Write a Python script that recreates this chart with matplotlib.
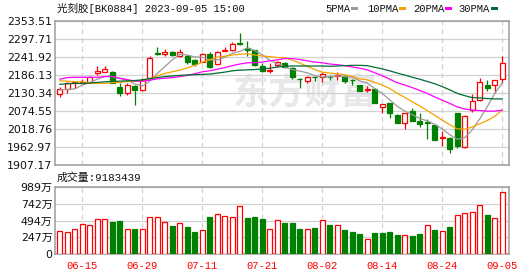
import matplotlib
matplotlib.use("Agg")
import matplotlib.pyplot as plt
import numpy as np
from matplotlib.patches import Rectangle

plt.rcParams['font.family'] = ['DejaVu Sans', 'Noto Sans CJK SC']

title = "光刻胶[BK0884] 2023-09-05 15:00"
vol_title = "成交量:9183439"

dates = ['06-12', '06-13', '06-14', '06-15', '06-16', '06-19', '06-20', '06-21', '06-26', '06-27',
         '06-28', '06-29', '06-30', '07-03', '07-04', '07-05', '07-06', '07-07', '07-10', '07-11',
         '07-12', '07-13', '07-14', '07-17', '07-18', '07-19', '07-20', '07-21', '07-24', '07-25',
         '07-26', '07-27', '07-28', '07-31', '08-01', '08-02', '08-03', '08-04', '08-07', '08-08',
         '08-09', '08-10', '08-11', '08-14', '08-15', '08-16', '08-17', '08-18', '08-21', '08-22',
         '08-23', '08-24', '08-25', '08-28', '08-29', '08-30', '08-31', '09-01', '09-04', '09-05']
date_ticks = ['06-15', '06-29', '07-11', '07-21', '08-02', '08-14', '08-24', '09-05']

opens = [2128, 2145, 2161, 2163, 2166, 2192, 2195, 2197, 2150, 2130,
         2153, 2140, 2177, 2254, 2251, 2259, 2246, 2246, 2235, 2228,
         2253, 2221, 2263, 2265, 2285, 2271, 2264, 2216, 2201, 2219,
         2223, 2208, 2176, 2168, 2181, 2180, 2181, 2185, 2184, 2172,
         2155, 2141, 2145, 2087, 2099, 2063, 2037, 2076, 2044, 2041,
         2031, 1993, 1992, 2069, 1965, 2079, 2109, 2156, 2155, 2174]
closes = [2143, 2161, 2164, 2166, 2180, 2198, 2205, 2163, 2132, 2155,
          2142, 2172, 2239, 2252, 2259, 2248, 2258, 2228, 2221, 2253,
          2211, 2258, 2265, 2283, 2284, 2264, 2218, 2200, 2203, 2226,
          2211, 2180, 2175, 2180, 2180, 2191, 2180, 2187, 2170, 2171,
          2138, 2143, 2101, 2096, 2070, 2039, 2068, 2045, 2034, 2037,
          1987, 1995, 1957, 1967, 2061, 2106, 2165, 2148, 2171, 2223]
highs = [2151, 2165, 2166, 2174, 2184, 2215, 2215, 2199, 2163, 2162,
         2155, 2178, 2245, 2273, 2269, 2263, 2267, 2249, 2238, 2255,
         2258, 2262, 2273, 2289, 2318, 2291, 2266, 2225, 2223, 2232,
         2226, 2213, 2179, 2185, 2182, 2197, 2186, 2195, 2186, 2176,
         2157, 2152, 2147, 2097, 2101, 2065, 2068, 2086, 2068, 2052,
         2033, 2015, 1994, 2069, 2062, 2128, 2178, 2172, 2171, 2246]
lows = [2120, 2132, 2148, 2161, 2163, 2187, 2195, 2162, 2122, 2126,
        2093, 2139, 2174, 2249, 2246, 2246, 2242, 2220, 2215, 2226,
        2208, 2218, 2262, 2262, 2280, 2246, 2216, 2197, 2193, 2213,
        2208, 2175, 2148, 2161, 2169, 2166, 2172, 2173, 2163, 2155,
        2136, 2133, 2099, 2068, 2055, 2037, 2021, 2045, 2027, 1990,
        1986, 1967, 1946, 1960, 1962, 2073, 2106, 2139, 2131, 2162]

ma5 = [2141, 2142, 2144, 2156, 2163, 2174, 2183, 2182, 2176, 2171,
       2159, 2153, 2168, 2192, 2213, 2234, 2251, 2249, 2243, 2242,
       2234, 2234, 2242, 2254, 2260, 2271, 2263, 2250, 2233, 2222,
       2212, 2204, 2199, 2194, 2185, 2181, 2181, 2184, 2182, 2180,
       2169, 2162, 2145, 2130, 2110, 2090, 2075, 2064, 2052, 2045,
       2034, 2020, 2002, 1988, 1993, 2017, 2051, 2089, 2130, 2163]
ma10 = [2169, 2168, 2166, 2166, 2162, 2161, 2161, 2163, 2164, 2167,
        2167, 2168, 2175, 2184, 2192, 2197, 2202, 2209, 2217, 2227,
        2234, 2243, 2245, 2249, 2251, 2253, 2249, 2246, 2244, 2241,
        2241, 2233, 2224, 2214, 2204, 2196, 2193, 2191, 2188, 2183,
        2175, 2172, 2164, 2156, 2145, 2130, 2118, 2104, 2091, 2077,
        2062, 2047, 2033, 2020, 2019, 2026, 2036, 2046, 2059, 2078]
ma20 = [2174, 2179, 2180, 2180, 2180, 2180, 2182, 2183, 2177, 2173,
        2168, 2168, 2171, 2175, 2177, 2179, 2182, 2186, 2191, 2197,
        2200, 2205, 2210, 2216, 2221, 2225, 2225, 2227, 2231, 2234,
        2238, 2238, 2235, 2231, 2227, 2225, 2221, 2219, 2216, 2212,
        2208, 2203, 2194, 2185, 2174, 2163, 2156, 2148, 2139, 2130,
        2119, 2109, 2099, 2088, 2082, 2078, 2077, 2075, 2075, 2078]
ma30 = [2158, 2160, 2161, 2161, 2162, 2164, 2166, 2167, 2168, 2169,
        2170, 2172, 2176, 2179, 2182, 2184, 2186, 2187, 2188, 2189,
        2190, 2193, 2196, 2200, 2202, 2203, 2204, 2206, 2208, 2212,
        2214, 2215, 2215, 2215, 2215, 2215, 2214, 2215, 2216, 2217,
        2217, 2216, 2211, 2206, 2200, 2193, 2187, 2180, 2174, 2167,
        2160, 2151, 2141, 2130, 2123, 2117, 2116, 2114, 2113, 2113]

# volume in 万
volumes = [347, 332, 377, 437, 422, 512, 512, 471, 486, 377,
           367, 377, 542, 542, 467, 412, 452, 397, 322, 362,
           546, 587, 557, 542, 711, 531, 546, 516, 377, 497,
           457, 457, 367, 377, 382, 497, 431, 427, 352, 322,
           297, 227, 307, 307, 322, 282, 278, 262, 297, 427,
           352, 337, 397, 576, 602, 621, 726, 576, 527, 918.3439]
vol_up = [1, 1, 1, 1, 1, 1, 1, 0, 0, 1,
          0, 1, 1, 1, 1, 0, 1, 0, 0, 1,
          0, 1, 1, 1, 1, 0, 0, 0, 1, 1,
          0, 0, 0, 1, 0, 1, 0, 1, 0, 0,
          0, 1, 0, 0, 0, 0, 1, 0, 0, 1,
          0, 1, 0, 1, 1, 1, 1, 0, 1, 1]

price_labels = ['1907.17', '1962.97', '2018.76', '2074.55', '2130.34',
                '2186.13', '2241.92', '2297.71', '2353.51']
vol_labels = ['0', '247万', '494万', '742万', '989万']

legend_names = ['5PMA', '10PMA', '20PMA', '30PMA']
ma_colors = ['#9a9a9a', '#f5a300', '#ff00ff', '#006b33']

RED = '#ff0000'
GREEN = '#008000'
GRID = '#d2d2d2'
FRAME = '#9c9c9c'

W, H = 530, 276
fig = plt.figure(figsize=(W / 100, H / 100), dpi=100)
left = 55.3 / W
width = (509 - 55.3) / W
ax = fig.add_axes([left, 1 - 165.3 / H, width, 144 / H])
axv = fig.add_axes([left, 1 - 254.3 / H, width, 67.6 / H])

x = np.arange(len(dates))
o = np.array(opens, float)
c = np.array(closes, float)
up = c >= o
bw = 0.66

# watermark
ax.text(0.55, 0.5, "东方财富", transform=ax.transAxes, ha='center', va='center',
        fontsize=26, fontweight='bold', color='#e8e8eb', family='Noto Sans CJK SC', zorder=0)

# candles
for i in x:
    col = RED if up[i] else GREEN
    ax.vlines(i, lows[i], highs[i], color=col, lw=0.9, zorder=2)
    lo = min(o[i], c[i])
    h = max(abs(c[i] - o[i]), 0.6)
    ax.bar(i, h, bottom=lo, width=bw, facecolor='white' if up[i] else GREEN,
           edgecolor=col, linewidth=0.9, zorder=3)

for ma, col in zip([ma5, ma10, ma20, ma30], ma_colors):
    ax.plot(x, ma, color=col, lw=0.9, zorder=4)

ymin, ymax = 1907.17, 2353.51
ax.set_ylim(ymin, ymax)
ax.set_yticks(np.linspace(ymin, ymax, 9))
ax.set_yticklabels(price_labels)

# volume
vu = np.array(vol_up, bool)
axv.bar(x[vu], np.array(volumes)[vu], width=bw, facecolor='white', edgecolor=RED,
        linewidth=0.9, zorder=3)
axv.bar(x[~vu], np.array(volumes)[~vu], width=bw, facecolor=GREEN, edgecolor=GREEN,
        linewidth=0.9, zorder=3)
vmax = 989.2
axv.set_ylim(0, vmax)
axv.set_yticks(np.linspace(0, vmax, 5))
axv.set_yticklabels(vol_labels)

tick_pos = [dates.index(d) for d in date_ticks]
for a in (ax, axv):
    a.set_xlim(-0.6, 59.9)
    a.set_xticks(tick_pos)
    a.grid(axis='y', color=GRID, lw=0.9, zorder=1)
    for t in tick_pos:
        a.axvline(t, color=GRID, lw=0.9, ls=(0, (4, 3)), zorder=1)
    for s in a.spines.values():
        s.set_color(FRAME)
        s.set_linewidth(1.1)
    a.tick_params(length=0, pad=2, labelsize=7.9, colors='#111111')
    a.set_axisbelow(True)

ax.set_xticklabels([])
axv.set_xticklabels(date_ticks, color=RED, family='Liberation Mono', fontsize=7.6)
axv.tick_params(axis='x', pad=5)

fig.text(57 / W, 1 - 8.5 / H, title, ha='left', va='center', fontsize=7.6,
         family=['Liberation Mono', 'Noto Sans CJK SC'], color='#111111')
fig.text(57 / W, 1 - 178 / H, vol_title, ha='left', va='center', fontsize=7.8,
         family=['Liberation Mono', 'Noto Sans CJK SC'], color='#111111')

# legend
lx = [325, 367, 413, 458]
mx = [351, 399, 445, 491]
for name, col, tx, px in zip(legend_names, ma_colors, lx, mx):
    fig.text(tx / W, 1 - 8.5 / H, name, ha='left', va='center', fontsize=7.6,
             family='Liberation Mono', color='#111111')
    fig.add_artist(Rectangle((px / W, 1 - 10 / H), 7 / W, 3 / H, transform=fig.transFigure,
                             facecolor=col, edgecolor='none'))

fig.savefig("out.png", dpi=100)
